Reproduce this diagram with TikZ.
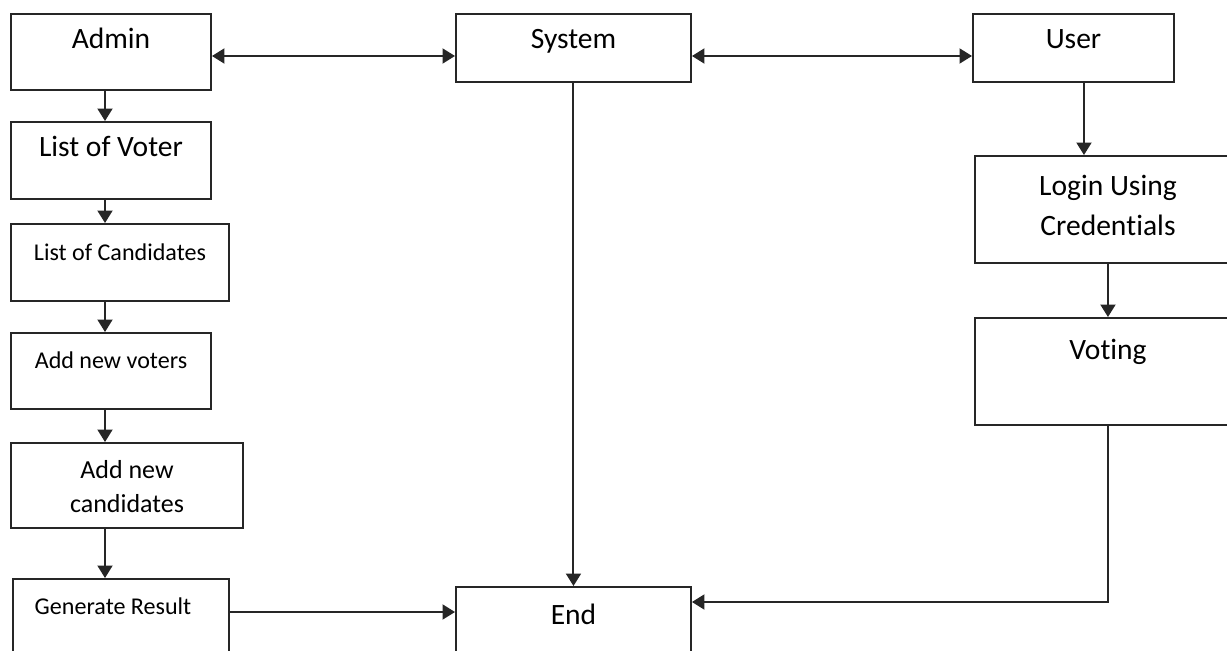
\documentclass[tikz,border=0pt]{standalone}
\usepackage{fontspec}
\setmainfont{Carlito}[Ligatures={NoCommon,NoRequired,NoContextual}, Contextuals=NoAlternate, RawFeature={-liga;-dlig;-calt}]
\usetikzlibrary{
	arrows.meta,
	positioning
}
\newcommand{\nolig}{\kern0pt\relax}
\tikzset{
  % arrow
	cstra/.style      ={-{Triangle[length=.25cm,width=.30cm]}, line width=.04cm, draw=black!85},  % right arrow
	cstlra/.style     ={{Triangle[length=.25cm,width=.30cm]}-{Triangle[length=.25cm,width=.30cm]}, line width=.04cm, draw=black!85}, % left-right arrow
  % node
	cstbox/.style     ={draw=black!85, line width=.04cm, inner sep=0pt, anchor=north west, text=black, font=\fontsize{16.8pt}{22.2pt}\selectfont},
	cstboxs/.style    ={cstbox, font=\fontsize{13.7pt}{17pt}\selectfont},
	cstboxm/.style    ={cstbox, font=\fontsize{14.8pt}{19.9pt}\selectfont}
}
\begin{document}
\begin{tikzpicture}[x=.02cm,y=-.02cm]
	\useasboundingbox (0,0) rectangle (1227,650);
	\clip (0,0) rectangle (1227,650);
	% left column
	\node[cstbox, minimum width=4cm, text height=.70cm, text depth=.82cm] (admin) at (10,13) {Admin};
	\node[cstbox, minimum width=4cm, text height=.70cm, text depth=.84cm] (voter) at (10,121) {List of Voter};
	\node[cstboxs, minimum width=4.36cm, text height=.72cm, text depth=.82cm] (cand) at (10,223) {List of Candidates};
	\node[cstboxs, minimum width=4cm, text height=.70cm, text depth=.82cm] (newvot) at (10,332) {Add new voters};
	\node[cstboxm, minimum width=4.64cm, text height=.70cm, text depth=1.00cm] (newcand) at (10,442)
		{\begin{tabular}[t]{@{}c@{}}Add new\\candidates\end{tabular}};
	\node[cstboxs, minimum width=4.32cm, text height=.70cm, text depth=1.6cm] (gen) at (12,578) {Generate Result\kern.32cm};
	% middle column
	\node[cstbox, minimum width=4.70cm, text height=.70cm, text depth=.66cm] (sys) at (455,13) {System};
	\node[cstbox, minimum width=4.70cm, text height=.74cm, text depth=1.6cm] (end) at (455,586) {End};
	% right column
	\node[cstbox, minimum width=4.02cm, text height=.70cm, text depth=.66cm] (user) at (972,13) {User};
	\node[cstbox, minimum width=5.32cm, text height=.80cm, text depth=1.34cm] (login) at (974,155)
		{\begin{tabular}[t]{@{}c@{}}Login Using\\Creden\nolig tials\end{tabular}};
	\node[cstbox, minimum width=5.32cm, text height=.82cm, text depth=1.32cm] (vote) at (974,317) {Vot\nolig ing};
	% connectors
	\coordinate (lx) at (105,0);
	\draw[cstra] (lx |- admin.south) -- (lx |- voter.north);
	\draw[cstra] (lx |- voter.south) -- (lx |- cand.north);
	\draw[cstra] (lx |- cand.south) -- (lx |- newvot.north);
	\draw[cstra] (lx |- newvot.south) -- (lx |- newcand.north);
	\draw[cstra] (lx |- newcand.south) -- (lx |- gen.north);
	\draw[cstlra] ([yshift=-.16cm]sys.west -| admin.east) -- ([yshift=-.16cm]sys.west);
	\draw[cstlra] ([yshift=-.16cm]sys.east) -- ([yshift=-.16cm]user.west);
	\draw[cstra] ([yshift=-.68cm]gen.north east) -- ([yshift=-.68cm]gen.north east -| end.west);
	\draw[cstra] (sys.south) -- (end.north);
	\draw[cstra] ([xshift=.21cm]user.south) -- ([xshift=.21cm]user.south |- login.north);
	\draw[cstra] (login.south) -- (vote.north);
	\draw[cstra] (vote.south) |- ([yshift=-.32cm]end.north east);
\end{tikzpicture}
\end{document}
